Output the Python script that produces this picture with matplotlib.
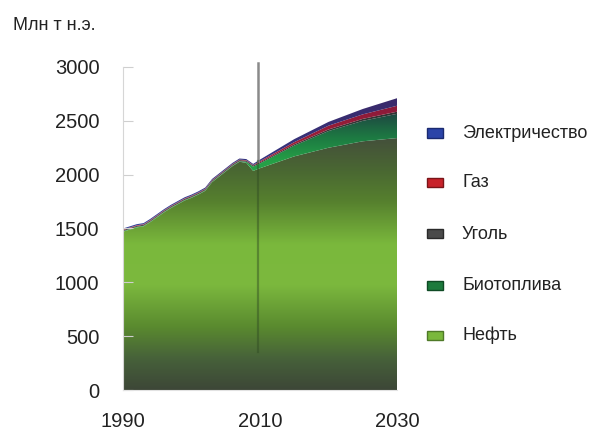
import numpy as np
import matplotlib.pyplot as plt
from matplotlib.colors import LinearSegmentedColormap
from matplotlib.patches import Rectangle

plt.rcParams['font.family'] = ['Liberation Sans', 'DejaVu Sans']

# Data (Mtoe)
years = [1990, 1991, 1992, 1993, 1994, 1995, 1996, 1997, 1998, 1999, 2000,
         2001, 2002, 2003, 2004, 2005, 2006, 2007, 2008, 2009, 2010,
         2015, 2020, 2025, 2030]
oil = [1470, 1490, 1510, 1520, 1560, 1605, 1650, 1690, 1725, 1760, 1785,
       1815, 1850, 1930, 1980, 2030, 2080, 2120, 2110, 2035, 2060,
       2170, 2250, 2310, 2340]
biofuels = [5, 5, 5, 5, 5, 5, 5, 5, 5, 5, 5,
            5, 5, 5, 5, 5, 5, 5, 10, 40, 45,
            100, 155, 190, 225]
coal = [10, 10, 10, 10, 10, 10, 10, 10, 10, 10, 10,
        10, 10, 10, 10, 10, 10, 10, 10, 10, 10,
        12, 15, 18, 20]
gas = [5, 5, 5, 5, 5, 5, 5, 5, 5, 5, 5,
       5, 5, 5, 5, 5, 5, 5, 5, 5, 10,
       20, 35, 42, 55]
electricity = [10, 10, 10, 10, 10, 10, 10, 10, 10, 10, 10,
               10, 10, 10, 10, 10, 10, 10, 10, 10, 15,
               28, 35, 50, 70]

series = [oil, biofuels, coal, gas, electricity]
labels = ['Нефть', 'Биотоплива', 'Уголь', 'Газ', 'Электричество']
divider_year = 2009.7

# gradient stops, bottom -> top of each band
grads = [
    [(0, '#3d4737'), (0.12, '#46603a'), (0.25, '#5a8a2f'), (0.42, '#7cb93e'),
     (0.58, '#7ab83c'), (0.75, '#56802e'), (0.87, '#4a6832'), (1, '#44503b')],
    [(0, '#27a84a'), (0.6, '#25a047'), (0.8, '#1d7a42'), (1, '#1e4a42')],
    [(0, '#4a4a4a'), (1, '#333333')],
    [(0, '#d02a30'), (1, '#8a1a3a')],
    [(0, '#2f3f9a'), (1, '#3a2a6a')],
]
legend_cols = ['#7ab83c', '#1c7a3c', '#4a4a4a', '#c8222a', '#2b44a8']
legend_edges = ['#4f7a28', '#0f4a24', '#2a2a2a', '#7a1418', '#1a2a70']

W, H = 593, 433
fig = plt.figure(figsize=(W / 100, H / 100), dpi=100)
ax = fig.add_axes([123 / W, 1 - 390 / H, 274 / W, 323 / H])

x = np.array(years, dtype=float)
base = np.zeros(len(x))
for i, (vals, g) in enumerate(zip(series, grads)):
    top = base + np.array(vals)
    coll = ax.fill_between(x, base, top, facecolor='none', edgecolor='none')
    cmap = LinearSegmentedColormap.from_list('g', g)
    lo = 0 if i == 0 else base.min()
    hi = top.max()
    grad = np.linspace(0, 1, 256).reshape(-1, 1)
    im = ax.imshow(grad, cmap=cmap, origin='lower', aspect='auto',
                   extent=[x[0], x[-1], lo, hi], interpolation='bilinear')
    im.set_clip_path(coll.get_paths()[0], transform=ax.transData)
    base = top

# divider: grey above the areas, faint inside them
top_at_div = np.interp(divider_year, x, base)
ax.plot([divider_year, divider_year], [top_at_div, 3040], color='#8a8a8a',
        lw=1.8, clip_on=False, zorder=5)
ax.plot([divider_year, divider_year], [350, top_at_div], color='#2f4a22',
        lw=1.6, alpha=0.45, zorder=5)

ax.set_xlim(1990, 2030)
ax.set_ylim(0, 3000)
ax.set_xticks([1990, 2010, 2030])
ax.set_yticks(np.arange(0, 3001, 500))
ax.tick_params(axis='x', length=0, pad=16, labelsize=14.5, labelcolor='#222222')
ax.tick_params(axis='y', direction='in', length=7, color='#cfcfcf', pad=17,
               labelsize=14.5, labelcolor='#222222')
for s in ['top', 'right']:
    ax.spines[s].set_visible(False)
ax.spines['left'].set_color('#d6d6d6')
ax.spines['bottom'].set_color('#e2e2e2')

fig.text(13 / W, 1 - 25 / H, 'Млн т н.э.', fontsize=13, color='#222222',
         va='center', ha='left')

# legend, top to bottom
rows = [335, 285, 234, 183, 133]
for lab, col, ec, yy in zip(labels, legend_cols, legend_edges, rows):
    fig.add_artist(Rectangle((427 / W, 1 - (yy + 4.5) / H), 16 / W, 9 / H,
                             transform=fig.transFigure, facecolor=col,
                             edgecolor=ec, lw=1))
    fig.text(462 / W, 1 - yy / H, lab, fontsize=13, color='#222222',
             va='center', ha='left')

fig.savefig('out.png', dpi=100)
